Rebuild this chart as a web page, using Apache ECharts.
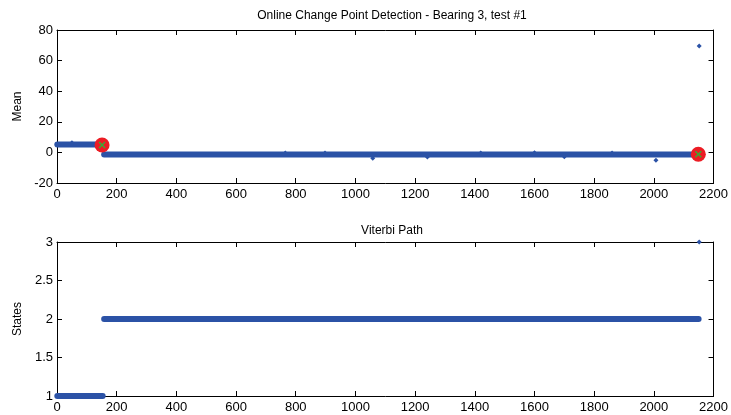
<!DOCTYPE html>
<html>
<head>
<meta charset="utf-8">
<script src="https://cdn.jsdelivr.net/npm/echarts@6/dist/echarts.min.js"></script>
<style>
  html, body { margin: 0; padding: 0; background: #fff; }
  #chart { width: 731px; height: 415px; }
</style>
</head>
<body>
<div id="chart"></div>
<script>
// x ticks shared by both panels
const xTicks = [0, 200, 400, 600, 800, 1000, 1200, 1400, 1600, 1800, 2000, 2200];

// top panel: mean per segment (start index, end index, level)
const segStart = [1, 158];
const segEnd = [153, 2150];
const segMean = [5.2, -1.4];
// isolated points
const noiseX = [50, 765, 898, 1058, 1241, 1420, 1600, 1700, 1860, 2007, 2152];
const noiseY = [6.3, -0.4, -0.4, -3.8, -3.0, -0.4, -0.3, -2.8, -0.4, -5.2, 69.5];
// detected change points
const cpX = [151, 2149];
const cpY = [4.8, -1.2];

// bottom panel: viterbi states
const stateStart = [1, 158];
const stateEnd = [153, 2150];
const stateLevel = [1, 2];
const stateOutX = [2152];
const stateOutY = [3];

const blue = '#2b52a6';
const font = { fontFamily: 'Liberation Sans, Arial', fontSize: 12, color: '#000' };
const tickFont = { fontFamily: 'Liberation Sans, Arial', fontSize: 13, color: '#000' };

const segSeries = function (starts, ends, levels, xi, yi) {
  return starts.map(function (s, i) {
    return {
      type: 'line', xAxisIndex: xi, yAxisIndex: yi, showSymbol: false, silent: true,
      lineStyle: { color: blue, width: 6, cap: 'round' },
      data: [[s, levels[i]], [ends[i], levels[i]]]
    };
  });
};

const xAxisBase = function (gi, pos, labels) {
  return {
    type: 'value', gridIndex: gi, position: pos, min: xTicks[0], max: xTicks[xTicks.length - 1], interval: 200,
    axisLine: { show: true, onZero: false, lineStyle: { color: '#000' } },
    axisTick: { show: true, inside: true, length: 5, lineStyle: { color: '#000' } },
    axisLabel: Object.assign({ show: labels, margin: 5, formatter: function (v) { return String(v); } }, tickFont),
    splitLine: { show: false }
  };
};
const yAxisBase = function (gi, pos, min, max, step, labels, name) {
  return {
    type: 'value', gridIndex: gi, position: pos, min: min, max: max, interval: step,
    name: name, nameLocation: 'middle', nameGap: 32, nameRotate: 90,
    nameTextStyle: font,
    axisLine: { show: true, onZero: false, lineStyle: { color: '#000' } },
    axisTick: { show: true, inside: true, length: 5, lineStyle: { color: '#000' } },
    axisLabel: Object.assign({ show: labels, margin: 4, formatter: function (v) { return String(v); } }, tickFont),
    splitLine: { show: false }
  };
};

const chart = echarts.init(document.getElementById('chart'));
const option = {
  animation: false,
  backgroundColor: '#fff',
  title: [
    { text: 'Online Change Point Detection - Bearing 3, test #1', left: 387, top: 5, textAlign: 'center',
      textStyle: Object.assign({ fontWeight: 'normal' }, font) },
    { text: 'Viterbi Path', left: 387, top: 220, textAlign: 'center',
      textStyle: Object.assign({ fontWeight: 'normal' }, font) }
  ],
  grid: [
    { left: 57, right: 13, top: 30, height: 153 },
    { left: 57, right: 13, top: 242, height: 154 }
  ],
  xAxis: [
    xAxisBase(0, 'bottom', true),
    xAxisBase(1, 'bottom', true),
    xAxisBase(0, 'top', false),
    xAxisBase(1, 'top', false)
  ],
  yAxis: [
    yAxisBase(0, 'left', -20, 80, 20, true, 'Mean'),
    yAxisBase(1, 'left', 1, 3, 0.5, true, 'States'),
    yAxisBase(0, 'right', -20, 80, 20, false, ''),
    yAxisBase(1, 'right', 1, 3, 0.5, false, '')
  ],
  series: [].concat(
    segSeries(segStart, segEnd, segMean, 0, 0),
    [{
      type: 'scatter', xAxisIndex: 0, yAxisIndex: 0, symbol: 'diamond', symbolSize: 5,
      itemStyle: { color: blue, opacity: 1 },
      data: noiseX.map(function (x, i) { return [x, noiseY[i]]; })
    }, {
      type: 'scatter', xAxisIndex: 0, yAxisIndex: 0, symbol: 'circle', symbolSize: 15, z: 3,
      itemStyle: { color: '#ec1c24', opacity: 1 },
      data: cpX.map(function (x, i) { return [x, cpY[i]]; })
    }, {
      type: 'scatter', xAxisIndex: 0, yAxisIndex: 0, symbolSize: 7, z: 4,
      symbol: 'path://M0,1.5 L1.5,0 L5,3.5 L8.5,0 L10,1.5 L6.5,5 L10,8.5 L8.5,10 L5,6.5 L1.5,10 L0,8.5 L3.5,5 Z',
      itemStyle: { color: '#3aaa35', opacity: 1 },
      data: cpX.map(function (x, i) { return [x, cpY[i]]; })
    }],
    segSeries(stateStart, stateEnd, stateLevel, 1, 1),
    [{
      type: 'scatter', xAxisIndex: 1, yAxisIndex: 1, symbol: 'diamond', symbolSize: 5,
      itemStyle: { color: blue, opacity: 1 },
      data: stateOutX.map(function (x, i) { return [x, stateOutY[i]]; })
    }]
  )
};
chart.setOption(option);
</script>
</body>
</html>
